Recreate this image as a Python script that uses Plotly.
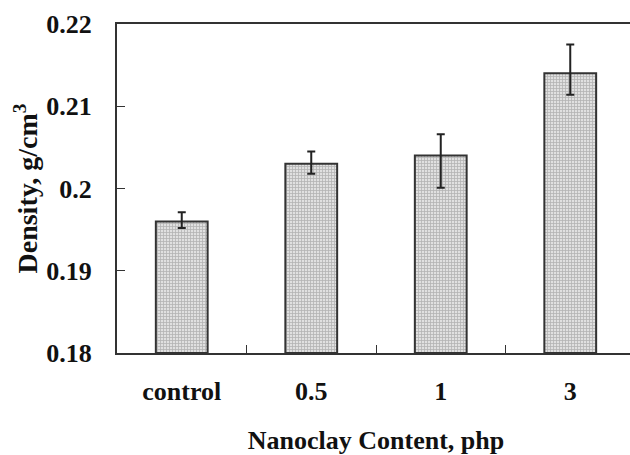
import plotly.graph_objects as go

categories = ["control", "0.5", "1", "3"]
density = [0.196, 0.203, 0.204, 0.214]
err_plus = [0.0011, 0.0015, 0.0026, 0.0035]
err_minus = [0.0008, 0.0012, 0.0039, 0.0026]
y_ticks = [0.18, 0.19, 0.2, 0.21, 0.22]
y_tick_labels = ["0.18", "0.19", "0.2", "0.21", "0.22"]
baseline = 0.18

font_family = "Liberation Serif"

fig = go.Figure()
fig.add_trace(go.Bar(
    x=categories,
    y=[v - baseline for v in density],
    base=baseline,
    width=0.40,
    marker=dict(
        color="#cccccc",
        line=dict(color="#333333", width=2),
        pattern=dict(shape="+", size=3, solidity=0.45, fgcolor="#858585", bgcolor="#e0e0e0"),
    ),
    error_y=dict(
        type="data",
        symmetric=False,
        array=err_plus,
        arrayminus=err_minus,
        color="#222222",
        thickness=2,
        width=4,
    ),
    showlegend=False,
))

fig.update_layout(
    width=635,
    height=455,
    margin=dict(l=117, r=0, t=24, b=102),
    paper_bgcolor="white",
    plot_bgcolor="white",
    font=dict(family=font_family, color="#111111"),
    xaxis=dict(
        type="category",
        automargin=False,
        showline=True,
        linecolor="#333333",
        linewidth=2,
        mirror=True,
        ticks="inside",
        tickson="boundaries",
        ticklen=8,
        tickcolor="#333333",
        tickwidth=1,
        tickfont=dict(size=26, family=font_family, weight="bold"),
        ticklabelstandoff=14,
        title=dict(text="Nanoclay Content, php", font=dict(size=26, family=font_family, weight="bold"), standoff=28),
        showgrid=False,
    ),
    yaxis=dict(
        range=[0.18, 0.22],
        automargin=False,
        tickvals=y_ticks,
        ticktext=y_tick_labels,
        showline=True,
        linecolor="#333333",
        linewidth=2,
        ticks="inside",
        ticklen=8,
        tickcolor="#333333",
        tickwidth=1,
        tickfont=dict(size=26, family=font_family, weight="bold"),
        ticklabelstandoff=18,
        title=dict(text="Density, g/cm<sup>3</sup>", font=dict(size=28, family=font_family, weight="bold"), standoff=0),
        showgrid=False,
        zeroline=False,
    ),
)

fig.write_html(
    "out.html",
    config={"displayModeBar": False},
    post_script="document.body.style.margin='0';document.body.style.overflow='hidden';",
)
